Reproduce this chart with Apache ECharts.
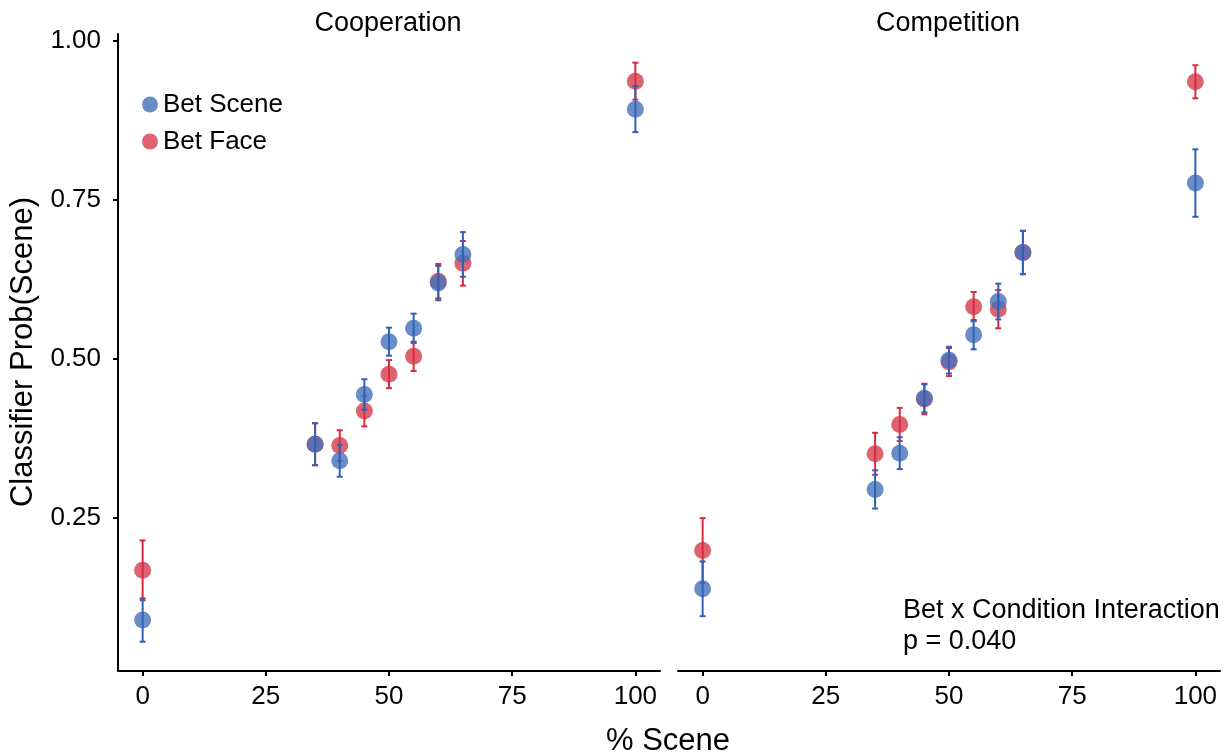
<!DOCTYPE html>
<html>
<head>
<meta charset="utf-8">
<script src="https://cdn.jsdelivr.net/npm/echarts@6/dist/echarts.min.js"></script>
<style>
  html, body { margin: 0; padding: 0; background: #fff; }
  #chart { width: 1228px; height: 755px; }
</style>
</head>
<body>
<div id="chart"></div>
<script>
// x positions (% Scene)
var pctScene = [0, 35, 40, 45, 50, 55, 60, 65, 100];
var xTicks = [0, 25, 50, 75, 100];
var yTicks = [0.25, 0.5, 0.75, 1.0];

// Cooperation panel: mean and error half-width
var coopSceneMean = [0.090, 0.366, 0.340, 0.444, 0.527, 0.548, 0.619, 0.664, 0.892];
var coopSceneErr  = [0.034, 0.033, 0.025, 0.024, 0.022, 0.023, 0.027, 0.035, 0.036];
var coopFaceMean  = [0.168, 0.366, 0.364, 0.418, 0.476, 0.504, 0.622, 0.650, 0.936];
var coopFaceErr   = [0.047, 0.033, 0.024, 0.024, 0.022, 0.023, 0.027, 0.035, 0.029];

// Competition panel
var compSceneMean = [0.139, 0.295, 0.352, 0.438, 0.498, 0.538, 0.590, 0.667, 0.776];
var compSceneErr  = [0.043, 0.030, 0.025, 0.022, 0.021, 0.023, 0.028, 0.034, 0.053];
var compFaceMean  = [0.199, 0.351, 0.397, 0.437, 0.495, 0.582, 0.578, 0.667, 0.935];
var compFaceErr   = [0.051, 0.033, 0.026, 0.024, 0.022, 0.023, 0.030, 0.034, 0.026];

var FONT = "'Liberation Sans', Arial, sans-serif";
var BLUE = "#4470bb";
var RED = "#d63c4e";
var BLUE_BAR = "#3360b5";
var RED_BAR = "#d92a42";

var chart = echarts.init(document.getElementById("chart"));

function points(means) {
  return pctScene.map(function (x, i) { return [x, means[i]]; });
}
function bars(means, errs) {
  return pctScene.map(function (x, i) { return [x, means[i] - errs[i], means[i] + errs[i]]; });
}
// error bar with small caps
function errRender(color) {
  return function (params, api) {
    var x = api.value(0);
    var top = api.coord([x, api.value(2)]);
    var bot = api.coord([x, api.value(1)]);
    var w = 3;
    var st = { stroke: color, lineWidth: 2 };
    return {
      type: "group",
      children: [
        { type: "line", shape: { x1: top[0], y1: top[1], x2: bot[0], y2: bot[1] }, style: st },
        { type: "line", shape: { x1: top[0] - w, y1: top[1], x2: top[0] + w, y2: top[1] }, style: st },
        { type: "line", shape: { x1: bot[0] - w, y1: bot[1], x2: bot[0] + w, y2: bot[1] }, style: st }
      ]
    };
  };
}

function xAxisFor(gridIndex) {
  return {
    type: "value", gridIndex: gridIndex, min: -5, max: 105,
    axisLine: { show: true, onZero: false, lineStyle: { color: "#000", width: 2 } },
    axisTick: { show: true, length: 5, customValues: xTicks, lineStyle: { color: "#000", width: 2 } },
    axisLabel: { customValues: xTicks, color: "#000", fontSize: 26, fontFamily: FONT, margin: 13 },
    splitLine: { show: false }
  };
}
function yAxisFor(gridIndex, visible) {
  return {
    type: "value", gridIndex: gridIndex, min: 0.01, max: 1.01,
    axisLine: { show: visible, onZero: false, lineStyle: { color: "#000", width: 2 } },
    axisTick: { show: visible, length: 5, customValues: yTicks, lineStyle: { color: "#000", width: 2 } },
    axisLabel: {
      show: visible, customValues: yTicks, color: "#000", fontSize: 26, fontFamily: FONT, margin: 17,
      formatter: function (v) { return v.toFixed(2); }
    },
    splitLine: { show: false }
  };
}

function panelSeries(idx, sceneMean, sceneErr, faceMean, faceErr) {
  return [
    { name: "Bet Face", type: "scatter", xAxisIndex: idx, yAxisIndex: idx, z: 2,
      symbolSize: 17, itemStyle: { color: RED, opacity: 0.8 }, data: points(faceMean) },
    { name: "faceErr" + idx, type: "custom", xAxisIndex: idx, yAxisIndex: idx, z: 3,
      renderItem: errRender(RED_BAR), encode: { x: 0, y: [1, 2] }, data: bars(faceMean, faceErr) },
    { name: "Bet Scene", type: "scatter", xAxisIndex: idx, yAxisIndex: idx, z: 4,
      symbolSize: 17, itemStyle: { color: BLUE, opacity: 0.8 }, data: points(sceneMean) },
    { name: "sceneErr" + idx, type: "custom", xAxisIndex: idx, yAxisIndex: idx, z: 5,
      renderItem: errRender(BLUE_BAR), encode: { x: 0, y: [1, 2] }, data: bars(sceneMean, sceneErr) }
  ];
}

var option = {
  backgroundColor: "#fff",
  animation: false,
  grid: [
    { left: 118, top: 34, width: 542, height: 637 },
    { left: 678, top: 34, width: 542, height: 637 }
  ],
  xAxis: [xAxisFor(0), xAxisFor(1)],
  yAxis: [yAxisFor(0, true), yAxisFor(1, false)],
  legend: {
    data: ["Bet Scene", "Bet Face"],
    orient: "vertical", left: 137, top: 86, itemGap: 10,
    itemWidth: 16, itemHeight: 16, icon: "circle",
    textStyle: { color: "#000", fontSize: 26, fontFamily: FONT, lineHeight: 27 }
  },
  graphic: [
    { type: "text", x: 388, y: 24, style: { text: "Cooperation", fill: "#000", font: "27px " + FONT, align: "center", verticalAlign: "middle" } },
    { type: "text", x: 948, y: 24, style: { text: "Competition", fill: "#000", font: "27px " + FONT, align: "center", verticalAlign: "middle" } },
    { type: "text", x: 668, y: 741, style: { text: "% Scene", fill: "#000", font: "31px " + FONT, align: "center", verticalAlign: "middle" } },
    { type: "text", x: 23, y: 352, rotation: Math.PI / 2, style: { text: "Classifier Prob(Scene)", fill: "#000", font: "31px " + FONT, align: "center", verticalAlign: "middle" } },
    { type: "text", x: 903, y: 611, style: { text: "Bet x Condition Interaction", fill: "#000", font: "27px " + FONT, align: "left", verticalAlign: "middle" } },
    { type: "text", x: 903, y: 642, style: { text: "p = 0.040", fill: "#000", font: "27px " + FONT, align: "left", verticalAlign: "middle" } }
  ],
  series: panelSeries(0, coopSceneMean, coopSceneErr, coopFaceMean, coopFaceErr)
    .concat(panelSeries(1, compSceneMean, compSceneErr, compFaceMean, compFaceErr))
};

chart.setOption(option);
</script>
</body>
</html>
